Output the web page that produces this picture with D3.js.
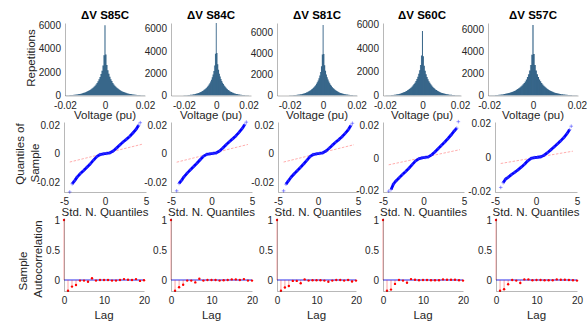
<!DOCTYPE html>
<html><head><meta charset="utf-8">
<script src="https://cdn.jsdelivr.net/npm/d3@7"></script>
<style>
html,body{margin:0;padding:0;background:#fff;}
svg{display:block;font-family:"Liberation Sans",Arial,Helvetica,sans-serif;}
</style></head><body>
<svg id="fig" width="587" height="325"></svg>
<script>
// ---------- data ----------
const titles = ["ΔV S85C", "ΔV S84C", "ΔV S81C", "ΔV S60C", "ΔV S57C"];

// Voltage-difference histograms: 81 bins centred on -0.02 … 0.02 (step 0.0005)
const binFirstCenter = -0.02;
const binWidth = 0.0005;
const histS85C = [15,18,21,25,30,35,40,46,53,61,70,80,92,105,120,137,157,180,204,232,262,296,335,376,422,475,532,596,668,748,838,946,1068,1210,1380,1590,1830,2120,2560,3450,
  6000,
  3500,2600,2150,1850,1600,1400,1230,1070,950,840,745,660,590,525,470,415,370,330,290,255,225,200,175,155,135,118,103,90,78,68,59,51,44,38,33,28,24,20,17,14];
const histS84C = [16,19,23,27,32,38,44,51,59,68,78,89,102,117,133,152,173,197,223,252,284,320,360,404,452,505,565,632,705,786,878,985,1108,1250,1420,1630,1880,2200,2700,3750,
  6500,
  3800,2800,2300,1960,1700,1490,1310,1150,1020,905,800,708,628,556,494,438,388,344,305,270,238,210,185,163,143,126,110,96,84,73,63,55,47,41,35,30,26,22,19,16];
const histS81C = [14,17,21,25,30,36,42,49,57,66,76,87,100,114,130,148,169,192,218,247,279,315,355,399,448,502,562,628,702,784,876,982,1104,1246,1416,1628,1890,2230,2780,3900,
  6700,
  3950,2880,2350,2000,1730,1510,1325,1165,1030,915,810,718,636,564,500,443,392,347,307,271,239,211,186,164,144,127,111,97,85,74,64,56,48,42,36,31,27,23,20,17];
const histS60C = [10,12,15,18,22,26,31,37,44,52,61,72,84,98,114,132,153,176,202,231,263,299,339,383,431,484,543,608,680,760,850,954,1074,1214,1380,1580,1820,2120,2560,3350,
  5400,
  3300,2500,2070,1780,1550,1360,1200,1060,940,832,736,652,578,512,453,400,353,311,274,241,212,186,163,143,125,109,95,83,72,62,54,46,40,34,29,25,21,18,15,12];
const histS57C = [12,15,18,22,27,32,38,45,53,62,72,84,97,112,129,148,170,195,222,253,287,325,367,413,464,520,582,650,726,810,904,1012,1136,1280,1452,1666,1930,2260,2760,3700,
  6400,
  3750,2760,2260,1930,1670,1460,1285,1130,1000,885,783,694,615,545,483,427,378,334,295,260,229,202,178,157,138,121,106,93,81,71,62,54,47,41,35,30,26,22,19,16];
const histCounts = [histS85C, histS84C, histS81C, histS60C, histS57C];
const histXDomains = [[-0.02, 0.02], [-0.028, 0.0215], [-0.0275, 0.0202], [-0.021, 0.0205], [-0.0205, 0.0205]];
const histYMax = [6200, 6500, 6880, 6080, 6570];
const histXTicks = [-0.02, 0, 0.02];
const histYTicks = [0, 2000, 4000, 6000];

// Normal probability plots: standard normal quantiles vs sample quantiles
const qqTheoretical = [-4.3,-4.0,-3.7,-3.4,-3.0,-2.6,-2.2,-1.8,-1.4,-1.0,-0.6,-0.2,0.2,0.6,1.0,1.4,1.8,2.2,2.6,3.0,3.4,3.8,4.1,4.3];
const qqS85C = [-0.0270,-0.0212,-0.0190,-0.0165,-0.0140,-0.0118,-0.0095,-0.0072,-0.0046,-0.0021,-0.0006,-0.0001,0.0002,0.0006,0.0019,0.0039,0.0061,0.0082,0.0101,0.0121,0.0146,0.0172,0.0200,0.0218];
const qqS84C = [-0.0262,-0.0210,-0.0188,-0.0163,-0.0137,-0.0114,-0.0091,-0.0068,-0.0043,-0.0019,-0.0005,-0.0001,0.0002,0.0006,0.0019,0.0040,0.0063,0.0084,0.0104,0.0125,0.0150,0.0178,0.0205,0.0222];
const qqS81C = [-0.0262,-0.0215,-0.0192,-0.0168,-0.0143,-0.0120,-0.0097,-0.0073,-0.0047,-0.0021,-0.0006,-0.0001,0.0002,0.0006,0.0019,0.0038,0.0060,0.0080,0.0099,0.0119,0.0143,0.0170,0.0198,0.0214];
const qqS60C = [-0.0205,-0.0195,-0.0160,-0.0142,-0.0122,-0.0103,-0.0084,-0.0064,-0.0042,-0.0020,-0.0006,-0.0001,0.0002,0.0006,0.0018,0.0036,0.0056,0.0076,0.0096,0.0117,0.0140,0.0165,0.0182,0.0222];
const qqS57C = [-0.0178,-0.0150,-0.0128,-0.0118,-0.0102,-0.0088,-0.0074,-0.0058,-0.0040,-0.0020,-0.0006,-0.0001,0.0001,0.0004,0.0013,0.0028,0.0045,0.0062,0.0080,0.0098,0.0118,0.0142,0.0165,0.0185];
const qqSamples = [qqS85C, qqS84C, qqS81C, qqS60C, qqS57C];
// reference line through the quartiles, given by its two end points
const qqLineX = [-4.3, 4.5];
const qqLineY = [[-0.0059, 0.0066], [-0.0060, 0.0065], [-0.0059, 0.0063], [-0.0043, 0.0050], [-0.0036, 0.0037]];
const qqYDomains = [[-0.027, 0.0223], [-0.027, 0.0223], [-0.027, 0.0223], [-0.021, 0.022], [-0.0205, 0.021]];
const qqXTicks = [-5, 0, 5];
const qqYTicks = [-0.02, 0, 0.02];

// Sample autocorrelation, lags 0…20
const lags = [0,1,2,3,4,5,6,7,8,9,10,11,12,13,14,15,16,17,18,19,20];
const acfS85C = [1,-0.178,-0.11,-0.083,-0.01,-0.01,-0.03,0.03,-0.01,0,0,0,-0.01,-0.01,0,0.015,0.005,0,0.015,-0.015,-0.005];
const acfS84C = [1,-0.18,-0.12,-0.08,-0.01,-0.01,-0.04,0.02,-0.01,0,0,0,-0.01,-0.005,0,0.01,0.01,0,0.015,-0.01,-0.01];
const acfS81C = [1,-0.18,-0.125,-0.1,-0.015,-0.015,-0.055,0.01,-0.01,-0.005,-0.005,-0.005,-0.01,-0.03,-0.01,0,0,-0.01,0,-0.025,-0.01];
const acfS60C = [1,-0.18,-0.16,-0.065,0,-0.01,-0.045,0.015,0.005,-0.005,0,0,-0.005,-0.005,-0.005,0.01,0.005,0.005,0.005,-0.005,-0.01];
const acfS57C = [1,-0.18,-0.155,-0.07,0,-0.01,-0.05,0.01,0.01,-0.005,0,0,-0.005,-0.005,-0.005,0.01,0.005,0.005,0,-0.005,-0.01];
const acfValues = [acfS85C, acfS84C, acfS81C, acfS60C, acfS57C];
const acfBound = 0.0076;
const acfYDomain = [-0.183, 1.033];
const acfXTicks = [0, 10, 20];
const acfYTicks = [0, 0.5, 1];

// ---------- layout ----------
const rowY = [[23, 95.5], [122, 192], [218, 291]];
const colX = [
  [[65, 145], [171, 251], [277, 357], [383, 461], [488, 578]],
  [[64, 146], [171, 252], [278, 358], [383, 464], [495, 577]],
  [[64, 144], [171, 252], [277, 356], [383, 463], [496, 577]]
];
const TXT = "#262626";
const tickFmt = d => (d === 0 ? "0" : String(d));

const svg = d3.select("#fig");
const defs = svg.append("defs");

function axes(g, xs, ys, xt, yt) {
  const ax = g.append("g").attr("transform", `translate(0,${ys.range()[0]})`)
    .call(d3.axisBottom(xs).tickValues(xt).tickSize(0).tickSizeOuter(0).tickPadding(6).tickFormat(tickFmt));
  const ay = g.append("g").attr("transform", `translate(${xs.range()[0]},0)`)
    .call(d3.axisLeft(ys).tickValues(yt).tickSize(0).tickSizeOuter(0).tickPadding(4).tickFormat(tickFmt));
  [ax, ay].forEach(a => {
    a.select(".domain").attr("stroke", TXT).attr("stroke-width", 0.6).attr("stroke-opacity", 0.55);
    a.selectAll("text").attr("fill", TXT).attr("font-size", 10).attr("font-family", null);
  });
}

function label(x, y, txt, opts = {}) {
  const t = svg.append("text").attr("fill", opts.color || TXT)
    .attr("font-size", opts.size || 11.5)
    .attr("font-weight", opts.bold ? "bold" : null)
    .attr("text-anchor", "middle")
    .text(txt);
  if (opts.rotate) t.attr("transform", `translate(${x},${y}) rotate(-90)`).attr("dy", "0.35em");
  else t.attr("x", x).attr("y", y);
  return t;
}

titles.forEach((title, c) => {
  // ---- row 1: histogram ----
  {
    const [x0, x1] = colX[0][c];
    const xs = d3.scaleLinear().domain(histXDomains[c]).range([x0, x1]);
    const ys = d3.scaleLinear().domain([0, histYMax[c]]).range([rowY[0][1], rowY[0][0]]);
    const clipId = "clipH" + c;
    defs.append("clipPath").attr("id", clipId).append("rect")
      .attr("x", x0).attr("y", rowY[0][0]).attr("width", x1 - x0).attr("height", rowY[0][1] - rowY[0][0]);
    const g = svg.append("g");
    const counts = histCounts[c];
    // bin left edges with their counts, closed by the right edge of the last bin
    const steps = counts.map((n, i) => [binFirstCenter + (i - 0.5) * binWidth, n]);
    steps.push([binFirstCenter + (counts.length - 0.5) * binWidth, 0]);
    const area = d3.area().curve(d3.curveStepAfter)
      .x(d => xs(d[0])).y0(ys(0)).y1(d => ys(d[1]));
    const hg = g.append("g").attr("clip-path", `url(#${clipId})`);
    hg.append("path").attr("d", area(steps)).attr("fill", "#2f5e82");
    // faint bin edges
    hg.selectAll("line").data(counts).join("line")
      .attr("x1", (d, i) => xs(binFirstCenter + (i - 0.5) * binWidth))
      .attr("x2", (d, i) => xs(binFirstCenter + (i - 0.5) * binWidth))
      .attr("y1", ys(0)).attr("y2", d => ys(d))
      .attr("stroke", "#6d98ba").attr("stroke-width", 0.25).attr("stroke-opacity", 0.6);
    axes(g, xs, ys, histXTicks, histYTicks);
    label((x0 + x1) / 2, 19, title, { bold: true, size: 11.5, color: "#000" });
    label((x0 + x1) / 2, 119, "Voltage (pu)");
  }
  // ---- row 2: normal probability plot ----
  {
    const [x0, x1] = colX[1][c];
    const xs = d3.scaleLinear().domain([-5, 5]).range([x0, x1]);
    const ys = d3.scaleLinear().domain(qqYDomains[c]).range([rowY[1][1], rowY[1][0]]);
    const g = svg.append("g");
    g.append("line")
      .attr("x1", xs(qqLineX[0])).attr("y1", ys(qqLineY[c][0]))
      .attr("x2", xs(qqLineX[1])).attr("y2", ys(qqLineY[c][1]))
      .attr("stroke", "#ff6b6b").attr("stroke-width", 0.7).attr("stroke-dasharray", "2.5,1.5")
      .attr("stroke-opacity", 0.8);
    const pts = qqTheoretical.map((q, i) => [xs(q), ys(qqSamples[c][i])]);
    g.append("path")
      .attr("d", d3.line()(pts.slice(1, pts.length - 1)))
      .attr("fill", "none").attr("stroke", "#0000ff").attr("stroke-width", 2.8)
      .attr("stroke-linejoin", "round");
    const s = 1.8;
    g.selectAll("path.mk").data(pts).join("path").attr("class", "mk")
      .attr("d", p => `M${p[0] - s},${p[1]}h${2 * s}M${p[0]},${p[1] - s}v${2 * s}`)
      .attr("stroke", "#3b3bff").attr("stroke-width", 0.7).attr("stroke-opacity", 0.75);
    axes(g, xs, ys, qqXTicks, qqYTicks);
    label((x0 + x1) / 2, 216, "Std. N. Quantiles");
  }
  // ---- row 3: autocorrelation ----
  {
    const [x0, x1] = colX[2][c];
    const xs = d3.scaleLinear().domain([0, 20]).range([x0, x1]);
    const ys = d3.scaleLinear().domain(acfYDomain).range([rowY[2][1], rowY[2][0]]);
    const g = svg.append("g");
    [acfBound, -acfBound].forEach(b => {
      g.append("line").attr("x1", xs(0)).attr("x2", xs(20)).attr("y1", ys(b)).attr("y2", ys(b))
        .attr("stroke", "#7a7af2").attr("stroke-width", 1.2).attr("stroke-opacity", 0.75);
    });
    g.selectAll("line.stem").data(lags).join("line").attr("class", "stem")
      .attr("x1", l => xs(l)).attr("x2", l => xs(l))
      .attr("y1", ys(0)).attr("y2", (l, i) => ys(acfValues[c][i]))
      .attr("stroke", "#ff0000").attr("stroke-width", 0.6).attr("stroke-opacity", 0.6);
    g.selectAll("circle").data(lags).join("circle")
      .attr("cx", l => xs(l)).attr("cy", (l, i) => ys(acfValues[c][i]))
      .attr("r", 1.2).attr("fill", "#ff0000");
    axes(g, xs, ys, acfXTicks, acfYTicks);
    label((x0 + x1) / 2, 319, "Lag");
  }
});

// row labels on the first column
label(31, 58, "Repetitions", { rotate: true });
label(20, 154, "Quantiles of", { rotate: true });
label(35, 163, "Sample", { rotate: true });
label(23, 271, "Sample", { rotate: true });
label(38, 259, "Autocorrelation", { rotate: true });
</script></body></html>
